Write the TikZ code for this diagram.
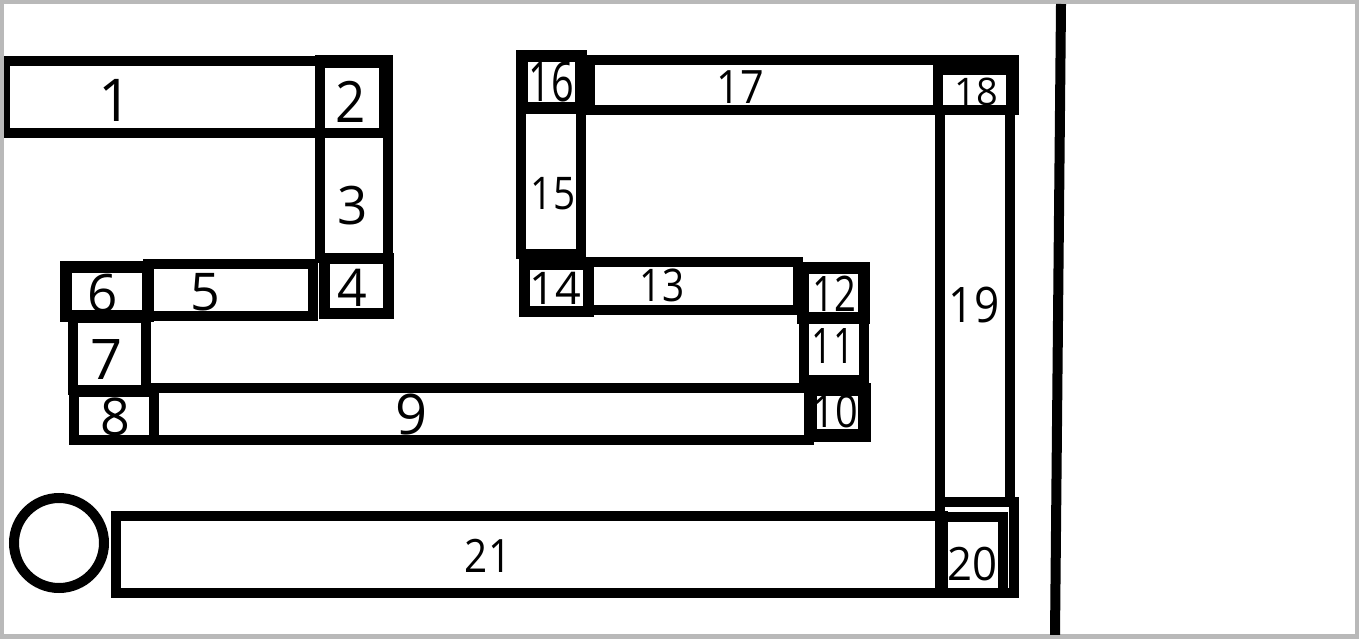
\documentclass[tikz,border=0pt]{standalone}
\usepackage{fontspec}
\setmainfont{Open Sans}
\newcommand{\fs}[1]{\fontsize{#1}{#1}\selectfont}
\tikzset{
  box/.style={draw=black, line width=10pt, line join=miter},
  lab/.style={inner sep=0pt, text=black},
}
\begin{document}
\begin{tikzpicture}[x=1pt, y=-1pt]
\useasboundingbox (0,0) rectangle (1359,639);
% frame
\fill[gray!55] (0,0) rectangle (1359,639);
\fill[white] (4,4) rectangle (1355,634);
\begin{scope}
\clip (4,4) rectangle (1355,634);
% left group
\draw[box] (5,61) rectangle (320,133);
\draw[box] (320,63) rectangle (384,133);
\draw[box] (320,60) rectangle (388,258);
\draw[box, line width=11pt] (324,258) rectangle (388,313);
\draw[box] (148,264) rectangle (313,316);
\draw[box, line width=12pt] (66,267) rectangle (148,316);
\draw[box] (73,318) rectangle (146,390);
\draw[box] (74,392) rectangle (154,440);
\draw[box] (154,388) rectangle (809,440);
\draw[box, line width=13pt] (810,389) rectangle (864,435);
\draw[box] (804,317) rectangle (864,380);
\draw[box, line width=12pt] (803,268) rectangle (864,318);
% middle group
\draw[box] (588,262) rectangle (798,310);
\draw[box, line width=11pt] (524,264) rectangle (588,311);
\draw[box] (521,108) rectangle (581,254);
\draw[box, line width=12pt] (522,56) rectangle (581,108);
\draw[box] (590,60) rectangle (1014,110);
\draw[box] (938,70) rectangle (1011,110);
\draw[box] (940,110) rectangle (1010,502);
\draw[box] (940,502) rectangle (1014,593);
\draw[box] (943,517) rectangle (1003,593);
\draw[box] (116,516) rectangle (943,593);
% circle
\node[circle, draw=black, line width=10pt, minimum size=90pt, inner sep=0pt] (c) at (59,543) {};
% vertical line
\coordinate (vt) at (1061,4);
\coordinate (vb) at (1055,635);
\draw[line width=10pt] (vt) -- (vb);
\end{scope}
% labels
\node[lab, font=\fs{59}] (l1) at (115,100) {1};
\node[lab, font=\fs{57}, xscale=0.93] (l2) at (351,102) {2};
\node[lab, font=\fs{53}] (l3) at (353,206) {3};
\node[lab, font=\fs{52}] (l4) at (352,288) {4};
\node[lab, font=\fs{52}] (l5) at (205,292) {5};
\node[lab, font=\fs{53}] (l6) at (103,294) {6};
\node[lab, font=\fs{56}] (l7) at (107,360) {7};
\node[lab, font=\fs{52}] (l8) at (115,417) {8};
\node[lab, font=\fs{56}] (l9) at (412,414) {9};
\node[lab, font=\fs{45}, xscale=0.88] (l10) at (835,411) {10};
\node[lab, font=\fs{49}, xscale=0.75] (l11) at (833,346) {11};
\node[lab, font=\fs{49}, xscale=0.78] (l12) at (834,294) {12};
\node[lab, font=\fs{45}, xscale=0.86] (l13) at (662,285) {13};
\node[lab, font=\fs{45}] (l14) at (555,288) {14};
\node[lab, font=\fs{45}, xscale=0.86] (l15) at (553,194) {15};
\node[lab, font=\fs{55}, xscale=0.72] (l16) at (551,82) {16};
\node[lab, font=\fs{46}, xscale=0.9] (l17) at (740,87) {17};
\node[lab, font=\fs{38}] (l18) at (976,92) {18};
\node[lab, font=\fs{49}, xscale=0.9] (l19) at (974,305) {19};
\node[lab, font=\fs{46}, xscale=0.95] (l20) at (972,564) {20};
\node[lab, font=\fs{46}, xscale=0.88] (l21) at (488,556) {21};
\end{tikzpicture}
\end{document}
